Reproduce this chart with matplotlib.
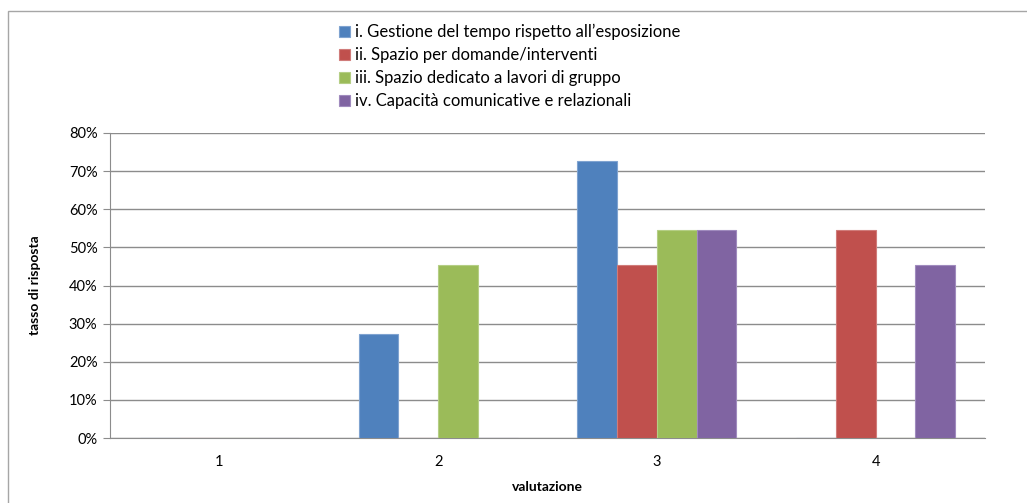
import numpy as np
import matplotlib.pyplot as plt
from matplotlib.patches import Rectangle
from matplotlib.ticker import PercentFormatter

plt.rcParams['font.family'] = ['Lato', 'DejaVu Sans']

# data
categories = ['1', '2', '3', '4']
series_names = [
    'i. Gestione del tempo rispetto all\u2019esposizione',
    'ii. Spazio per domande/interventi',
    'iii. Spazio dedicato a lavori di gruppo',
    'iv. Capacit\u00e0 comunicative e relazionali',
]
gestione = [0, 27.3, 72.7, 0]
spazio_domande = [0, 0, 45.5, 54.5]
lavori_gruppo = [0, 45.5, 54.5, 0]
capacita = [0, 0, 54.5, 45.5]
colors = ['#4F81BD', '#C0504D', '#9BBB59', '#8064A2']
edges = ['#7FA3D0', '#D07C7A', '#B5CE85', '#A08BBE']

fig = plt.figure(figsize=(10.27, 5.03), dpi=100)
ax = fig.add_axes([0.1071, 0.1292, 0.8520, 0.6064])

# chart border (only top and left visible in the reference)
fig.patches.append(Rectangle((8 / 1027, -0.1), 1.2, 1 - 11 / 503 + 0.1,
                             transform=fig.transFigure, fill=False,
                             edgecolor='#A6A6A6', linewidth=1.0))

x = np.arange(len(categories))
w = 1 / 5.5
all_series = [gestione, spazio_domande, lavori_gruppo, capacita]
for i, vals in enumerate(all_series):
    ax.bar(x + (i - 1.5) * w, vals, w, color=colors[i], edgecolor=edges[i],
           linewidth=0.8, label=series_names[i], zorder=3)

ax.set_xlim(-0.5, 3.5)
ax.set_ylim(0, 80)
ax.set_yticks(np.arange(0, 81, 10))
ax.yaxis.set_major_formatter(PercentFormatter(decimals=0))
ax.set_xticks(x)
ax.set_xticklabels(categories)
ax.grid(axis='y', color='#8C8C8C', linewidth=1.0, zorder=0)
for s in ['top', 'right']:
    ax.spines[s].set_visible(False)
ax.spines['left'].set_color('#8C8C8C')
ax.spines['bottom'].set_color('#8C8C8C')
ax.tick_params(axis='y', length=5, color='#8C8C8C', labelsize=10.5, pad=4)
ax.tick_params(axis='x', length=0, labelsize=10.5, pad=12)

ax.set_ylabel('tasso di risposta', fontsize=10, fontweight='bold', labelpad=20)
ax.set_xlabel('valutazione', fontsize=10, fontweight='bold', labelpad=9)

ax.legend(loc='upper left', bbox_to_anchor=(324 / 1027, 1 - 9 / 503),
          bbox_transform=fig.transFigure, frameon=False, fontsize=12,
          handlelength=0.65, handleheight=0.65, handletextpad=0.3,
          labelspacing=0.42)

fig.savefig('out.png', dpi=100)
